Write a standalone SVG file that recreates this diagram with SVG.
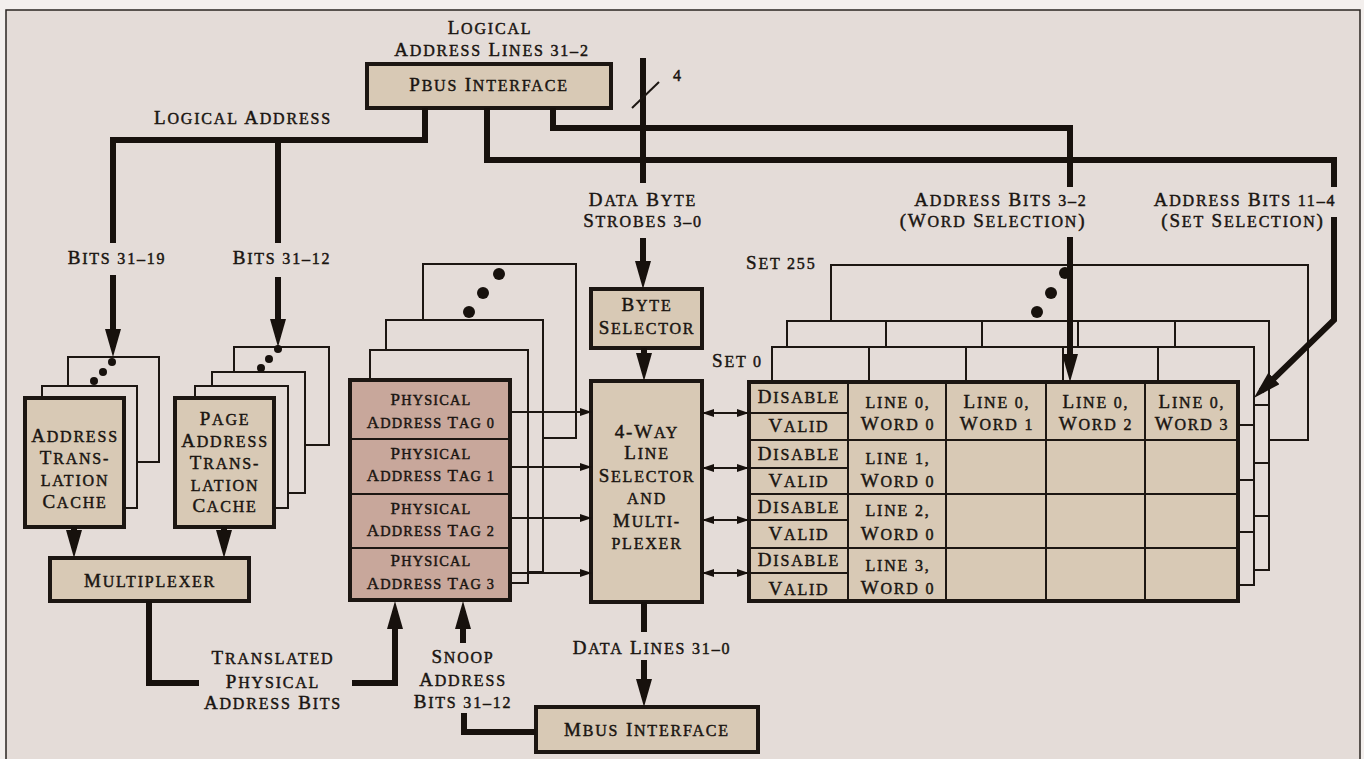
<svg xmlns="http://www.w3.org/2000/svg" width="1364" height="759" viewBox="0 0 1364 759">
<defs>
<style>
.t{font-family:"Liberation Serif","Times New Roman",serif;font-size:19px;letter-spacing:1.8px;fill:#1a1511;stroke:#1a1511;stroke-width:0.45px;text-anchor:middle}
.t .s{font-size:16px}
.u{font-size:17px;letter-spacing:1.2px}
.u .s{font-size:14.3px}
.st{text-anchor:start}
.box{fill:#d8c9b5;stroke:#1c1612;stroke-width:4}
.tag{fill:#c8a79b;stroke:#1c1612;stroke-width:4}
.lay{fill:#e4dcd8;stroke:#1c1612;stroke-width:2}
.ln{stroke:#1c1612;stroke-width:2;fill:none}
.bus{stroke:#17110d;stroke-width:6;fill:none}
.dot{fill:#17110d}
</style>
<marker id="ah" viewBox="0 0 28 16" refX="18" refY="8" markerWidth="28" markerHeight="16" markerUnits="userSpaceOnUse" orient="auto"><path d="M0,0 L28,8 L0,16 z" fill="#17110d"/></marker>
<marker id="as" viewBox="0 0 12 8" refX="11" refY="4" markerWidth="12" markerHeight="8" markerUnits="userSpaceOnUse" orient="auto-start-reverse"><path d="M0,0 L12,4 L0,8 z" fill="#17110d"/></marker>
</defs>
<rect x="0" y="0" width="1364" height="759" fill="#f3efed"/>
<rect x="6" y="10" width="1354" height="760" fill="#e4dcd8" stroke="#2a2420" stroke-width="1.5"/>

<g id="pbus-interface">
<rect class="box" x="367" y="64" width="244" height="44"/>
<text class="t" x="489" y="91">P<tspan class="s">BUS</tspan> I<tspan class="s">NTERFACE</tspan></text>
</g>

<g id="address-translation-cache">
<rect class="lay" x="68" y="357" width="91" height="105"/>
<rect class="lay" x="42" y="386" width="95" height="122"/>
<circle class="dot" cx="112" cy="362" r="4"/><circle class="dot" cx="103" cy="372" r="4"/><circle class="dot" cx="94" cy="381" r="4"/>
<rect class="box" x="25" y="398" width="99" height="129"/>
<text class="t" x="75" y="442">A<tspan class="s">DDRESS</tspan></text>
<text class="t" x="75" y="464">T<tspan class="s">RANS-</tspan></text>
<text class="t" x="75" y="486"><tspan class="s">LATION</tspan></text>
<text class="t" x="75" y="508">C<tspan class="s">ACHE</tspan></text>
</g>

<g id="page-address-translation-cache">
<rect class="lay" x="234" y="347" width="95" height="98"/>
<rect class="lay" x="212" y="372" width="93" height="121"/>
<rect class="lay" x="195" y="386" width="93" height="122"/>
<circle class="dot" cx="278" cy="349" r="4"/><circle class="dot" cx="269" cy="359" r="4"/><circle class="dot" cx="261" cy="368" r="4"/>
<rect class="box" x="175" y="398" width="99" height="129"/>
<text class="t" x="225" y="425">P<tspan class="s">AGE</tspan></text>
<text class="t" x="225" y="447">A<tspan class="s">DDRESS</tspan></text>
<text class="t" x="225" y="469">T<tspan class="s">RANS-</tspan></text>
<text class="t" x="225" y="491"><tspan class="s">LATION</tspan></text>
<text class="t" x="225" y="512">C<tspan class="s">ACHE</tspan></text>
</g>

<g id="multiplexer">
<rect class="box" x="50" y="558" width="199" height="43"/>
<text class="t" x="150" y="587">M<tspan class="s">ULTIPLEXER</tspan></text>
</g>

<g id="physical-address-tags">
<rect class="lay" x="423" y="264" width="153" height="174"/>
<circle class="dot" cx="499" cy="274" r="6"/><circle class="dot" cx="483" cy="293" r="6"/><circle class="dot" cx="469" cy="312" r="6"/>
<rect class="lay" x="386" y="320" width="157" height="252"/>
<rect class="lay" x="370" y="350" width="158" height="233"/>
<rect class="tag" x="350" y="380" width="160" height="220"/>
<path class="ln" d="M350,439 H510 M350,494 H510 M350,548 H510" stroke-width="3"/>
<text class="t u" x="431" y="405">P<tspan class="s">HYSICAL</tspan></text>
<text class="t u" x="431" y="428">A<tspan class="s">DDRESS</tspan> T<tspan class="s">AG 0</tspan></text>
<text class="t u" x="431" y="459">P<tspan class="s">HYSICAL</tspan></text>
<text class="t u" x="431" y="481">A<tspan class="s">DDRESS</tspan> T<tspan class="s">AG 1</tspan></text>
<text class="t u" x="431" y="514">P<tspan class="s">HYSICAL</tspan></text>
<text class="t u" x="431" y="536">A<tspan class="s">DDRESS</tspan> T<tspan class="s">AG 2</tspan></text>
<text class="t u" x="431" y="566">P<tspan class="s">HYSICAL</tspan></text>
<text class="t u" x="431" y="589">A<tspan class="s">DDRESS</tspan> T<tspan class="s">AG 3</tspan></text>
</g>

<g id="byte-selector">
<rect class="box" x="591" y="289" width="111" height="59"/>
<text class="t" x="647" y="311">B<tspan class="s">YTE</tspan></text>
<text class="t" x="647" y="334">S<tspan class="s">ELECTOR</tspan></text>
</g>

<g id="line-selector">
<rect class="box" x="591" y="381" width="111" height="221"/>
<text class="t" x="647" y="438">4-W<tspan class="s">AY</tspan></text>
<text class="t" x="647" y="459">L<tspan class="s">INE</tspan></text>
<text class="t" x="647" y="482">S<tspan class="s">ELECTOR</tspan></text>
<text class="t" x="647" y="504"><tspan class="s">AND</tspan></text>
<text class="t" x="647" y="527">M<tspan class="s">ULTI-</tspan></text>
<text class="t" x="647" y="549"><tspan class="s">PLEXER</tspan></text>
</g>

<g id="cache-sets">
<rect class="lay" x="831" y="265" width="477" height="175"/>
<circle class="dot" cx="1065" cy="273" r="6"/><circle class="dot" cx="1051" cy="293" r="6"/><circle class="dot" cx="1037" cy="312" r="6"/>
<rect class="lay" x="787" y="321" width="482" height="249"/>
<path class="ln" d="M886,321 V347 M982,321 V347 M1078,321 V347 M1175,321 V347 M1254,405 H1269 M1254,463 H1269 M1254,516 H1269"/>
<rect class="lay" x="772" y="347" width="482" height="238"/>
<path class="ln" d="M869,347 V382 M966,347 V382 M1063,347 V382 M1158,347 V382 M1238,425 H1254 M1238,480 H1254 M1238,532 H1254"/>
<rect class="box" x="749" y="382" width="489" height="219"/>
<path class="ln" d="M848,382 V601 M946,382 V601 M1046,382 V601 M1145,382 V601 M749,440 H1238 M749,494 H1238 M749,548 H1238 M749,413 H848 M749,468 H848 M749,520 H848 M749,573 H848"/>
<text class="t st" x="746" y="269">S<tspan class="s">ET 255</tspan></text>
<text class="t st" x="712" y="367">S<tspan class="s">ET 0</tspan></text>
<text class="t" x="799" y="403">D<tspan class="s">ISABLE</tspan></text>
<text class="t" x="799" y="432">V<tspan class="s">ALID</tspan></text>
<text class="t" x="799" y="460">D<tspan class="s">ISABLE</tspan></text>
<text class="t" x="799" y="487">V<tspan class="s">ALID</tspan></text>
<text class="t" x="799" y="513">D<tspan class="s">ISABLE</tspan></text>
<text class="t" x="799" y="540">V<tspan class="s">ALID</tspan></text>
<text class="t" x="799" y="566">D<tspan class="s">ISABLE</tspan></text>
<text class="t" x="799" y="595">V<tspan class="s">ALID</tspan></text>
<text class="t" x="898" y="408"><tspan class="s">LINE 0,</tspan></text>
<text class="t" x="898" y="430">W<tspan class="s">ORD 0</tspan></text>
<text class="t" x="997" y="408">L<tspan class="s">INE 0,</tspan></text>
<text class="t" x="997" y="430">W<tspan class="s">ORD 1</tspan></text>
<text class="t" x="1096" y="408">L<tspan class="s">INE 0,</tspan></text>
<text class="t" x="1096" y="430">W<tspan class="s">ORD 2</tspan></text>
<text class="t" x="1192" y="408">L<tspan class="s">INE 0,</tspan></text>
<text class="t" x="1192" y="430">W<tspan class="s">ORD 3</tspan></text>
<text class="t" x="898" y="464"><tspan class="s">LINE 1,</tspan></text>
<text class="t" x="898" y="487">W<tspan class="s">ORD 0</tspan></text>
<text class="t" x="898" y="516"><tspan class="s">LINE 2,</tspan></text>
<text class="t" x="898" y="540">W<tspan class="s">ORD 0</tspan></text>
<text class="t" x="898" y="571"><tspan class="s">LINE 3,</tspan></text>
<text class="t" x="898" y="594">W<tspan class="s">ORD 0</tspan></text>
</g>

<g id="mbus-interface">
<rect class="box" x="536" y="707" width="222" height="45"/>
<text class="t" x="647" y="736">M<tspan class="s">BUS</tspan> I<tspan class="s">NTERFACE</tspan></text>
</g>

<g id="connectors">
<path class="bus" d="M425,108 V140 H113 V243 M278,140 V243"/>
<path class="bus" d="M487,108 V160 H1334 V187"/>
<path class="bus" d="M553,108 V128 H1070 V187"/>
<path class="bus" d="M643,58 V183"/>
<path class="ln" d="M632,108 L659,82"/>
<path class="bus" d="M113,275 V347" marker-end="url(#ah)"/>
<path class="bus" d="M278,277 V337" marker-end="url(#ah)"/>
<path class="bus" d="M74,527 V548" marker-end="url(#ah)"/>
<path class="bus" d="M224,527 V548" marker-end="url(#ah)"/>
<path class="bus" d="M643,238 V279" marker-end="url(#ah)"/>
<path class="bus" d="M644,348 V371" marker-end="url(#ah)"/>
<path class="bus" d="M1070,237 V372" marker-end="url(#ah)"/>
<path class="bus" d="M1334,217 V320 L1261,391" marker-end="url(#ah)"/>
<path class="bus" d="M149,601 V683 H199"/>
<path class="bus" d="M352,683 H395 V611" marker-end="url(#ah)"/>
<path class="bus" d="M463,643 V611" marker-end="url(#ah)"/>
<path class="bus" d="M464,713 V732 H536"/>
<path class="bus" d="M644,602 V632"/>
<path class="bus" d="M644,660 V697" marker-end="url(#ah)"/>
<path class="ln" d="M510,412 H591" marker-end="url(#as)"/>
<path class="ln" d="M510,467 H591" marker-end="url(#as)"/>
<path class="ln" d="M510,518 H591" marker-end="url(#as)"/>
<path class="ln" d="M510,573 H591" marker-end="url(#as)"/>
<path class="ln" d="M703,413 H748" marker-start="url(#as)" marker-end="url(#as)"/>
<path class="ln" d="M703,468 H748" marker-start="url(#as)" marker-end="url(#as)"/>
<path class="ln" d="M703,520 H748" marker-start="url(#as)" marker-end="url(#as)"/>
<path class="ln" d="M703,573 H748" marker-start="url(#as)" marker-end="url(#as)"/>
</g>

<g id="labels">
<text class="t" x="490" y="34">L<tspan class="s">OGICAL</tspan></text>
<text class="t" x="492" y="56">A<tspan class="s">DDRESS</tspan> L<tspan class="s">INES 31–2</tspan></text>
<text class="t" x="678" y="81"><tspan class="s">4</tspan></text>
<text class="t" x="243" y="124">L<tspan class="s">OGICAL</tspan> A<tspan class="s">DDRESS</tspan></text>
<text class="t" x="117" y="264">B<tspan class="s">ITS 31–19</tspan></text>
<text class="t" x="282" y="264">B<tspan class="s">ITS 31–12</tspan></text>
<text class="t" x="643" y="206">D<tspan class="s">ATA</tspan> B<tspan class="s">YTE</tspan></text>
<text class="t" x="643" y="227">S<tspan class="s">TROBES 3–0</tspan></text>
<text class="t" x="1001" y="206">A<tspan class="s">DDRESS</tspan> B<tspan class="s">ITS 3–2</tspan></text>
<text class="t" x="993" y="227">(W<tspan class="s">ORD</tspan> S<tspan class="s">ELECTION</tspan>)</text>
<text class="t" x="1245" y="206">A<tspan class="s">DDRESS</tspan> B<tspan class="s">ITS 11–4</tspan></text>
<text class="t" x="1243" y="227">(S<tspan class="s">ET</tspan> S<tspan class="s">ELECTION</tspan>)</text>
<text class="t" x="273" y="664">T<tspan class="s">RANSLATED</tspan></text>
<text class="t" x="273" y="688">P<tspan class="s">HYSICAL</tspan></text>
<text class="t" x="273" y="709">A<tspan class="s">DDRESS</tspan> B<tspan class="s">ITS</tspan></text>
<text class="t" x="463" y="663">S<tspan class="s">NOOP</tspan></text>
<text class="t" x="463" y="686">A<tspan class="s">DDRESS</tspan></text>
<text class="t" x="463" y="708">B<tspan class="s">ITS 31–12</tspan></text>
<text class="t" x="652" y="654">D<tspan class="s">ATA</tspan> L<tspan class="s">INES 31–0</tspan></text>
</g>
</svg>
